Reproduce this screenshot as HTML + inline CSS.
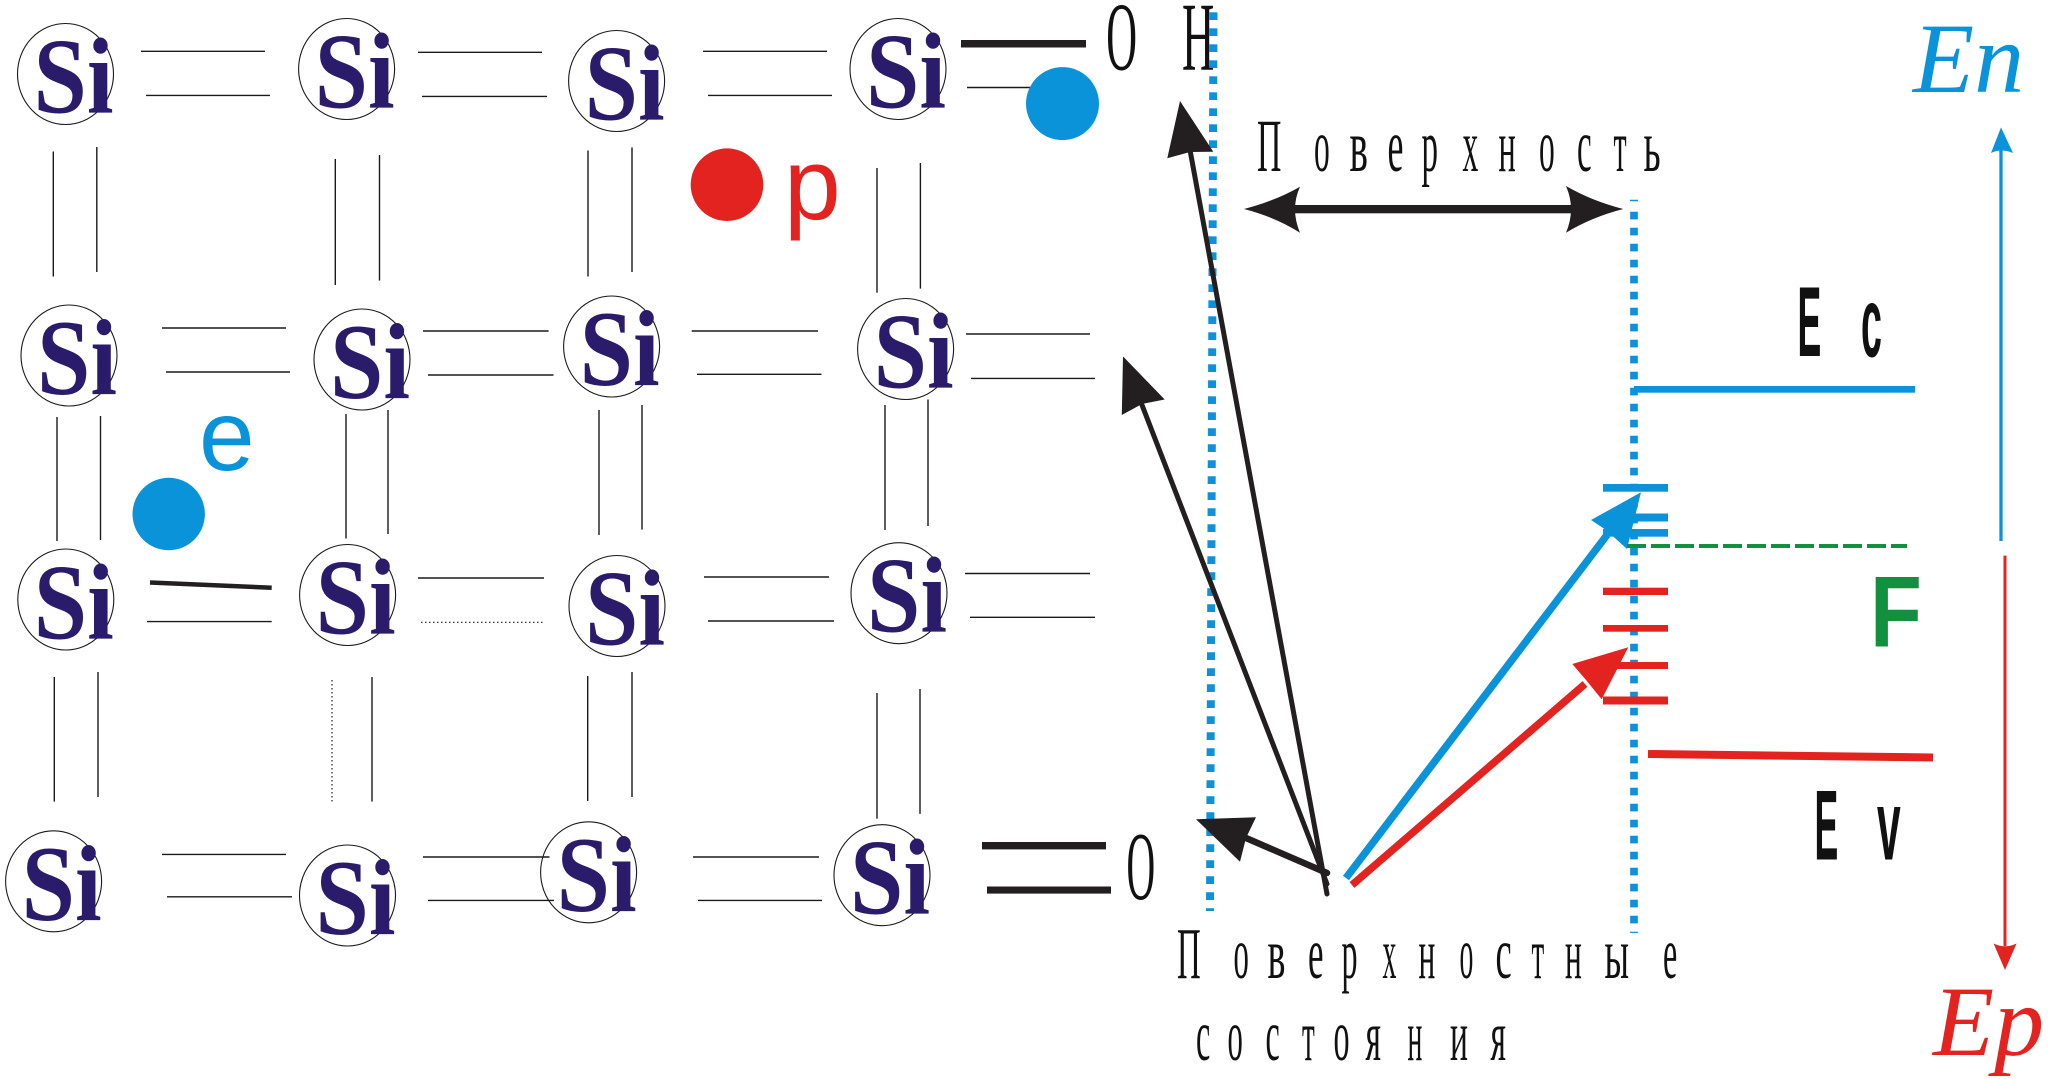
<!DOCTYPE html>
<html><head><meta charset="utf-8"><style>
html,body{margin:0;padding:0;background:#fff;}
svg{display:block;}
</style></head><body>
<svg width="2048" height="1079" viewBox="0 0 2048 1079" xmlns="http://www.w3.org/2000/svg">
<rect width="2048" height="1079" fill="#fff"/>

<!-- bonds -->
<g stroke="#1a1a1a" stroke-width="1.4" fill="none">
<line x1="141" y1="51.3" x2="265" y2="51.3"/><line x1="146" y1="95.4" x2="270" y2="95.4"/>
<line x1="418" y1="52.3" x2="542" y2="52.3"/><line x1="422" y1="96.4" x2="547" y2="96.4"/>
<line x1="703" y1="51.3" x2="827" y2="51.3"/><line x1="708" y1="95.4" x2="832" y2="95.4"/>
<line x1="967" y1="87.5" x2="1031" y2="87.5"/>
<line x1="53.3" y1="151.5" x2="53.3" y2="276.5"/><line x1="96.8" y1="147" x2="96.8" y2="272"/>
<line x1="335.3" y1="159" x2="335.3" y2="285"/><line x1="379.5" y1="155" x2="379.5" y2="280.6"/>
<line x1="588" y1="150.5" x2="588" y2="276.5"/><line x1="632" y1="147.4" x2="632" y2="272"/>
<line x1="877" y1="168" x2="877" y2="292.7"/><line x1="920.4" y1="163" x2="920.4" y2="288.6"/>
<line x1="162" y1="328" x2="286" y2="328"/><line x1="166" y1="372" x2="290" y2="372"/>
<line x1="423" y1="331" x2="548.6" y2="331"/><line x1="428" y1="375" x2="553.5" y2="375"/>
<line x1="691.7" y1="331" x2="818" y2="331"/><line x1="697" y1="374.3" x2="821.5" y2="374.3"/>
<line x1="966" y1="334" x2="1090" y2="334"/><line x1="971" y1="378.4" x2="1095" y2="378.4"/>
<line x1="57" y1="417" x2="57" y2="541"/><line x1="100.5" y1="416" x2="100.5" y2="540"/>
<line x1="346" y1="414" x2="346" y2="538.5"/><line x1="388" y1="410" x2="388" y2="534"/>
<line x1="599" y1="410" x2="599" y2="535"/><line x1="642" y1="405" x2="642" y2="529.6"/>
<line x1="885" y1="405" x2="885" y2="530"/><line x1="928" y1="399.5" x2="928" y2="526"/>
<line x1="147" y1="621.6" x2="271.7" y2="621.6"/>
<line x1="418" y1="578" x2="544" y2="578"/>
<line x1="421" y1="622.3" x2="544" y2="622.3" stroke-dasharray="1.5,2.5" stroke-width="1.2"/>
<line x1="704" y1="577" x2="829" y2="577"/><line x1="708" y1="621" x2="834" y2="621"/>
<line x1="965" y1="573.5" x2="1090" y2="573.5"/><line x1="970" y1="617.3" x2="1095" y2="617.3"/>
<line x1="54.3" y1="677" x2="54.3" y2="801.6"/><line x1="98" y1="672" x2="98" y2="797"/>
<line x1="332" y1="680" x2="332" y2="801.6" stroke-dasharray="1.5,2.5" stroke-width="1.2"/>
<line x1="372" y1="677" x2="372" y2="801.6"/>
<line x1="587.7" y1="676" x2="587.7" y2="801"/><line x1="632" y1="672" x2="632" y2="797"/>
<line x1="877" y1="693" x2="877" y2="818.7"/><line x1="920" y1="689" x2="920" y2="813.8"/>
<line x1="162" y1="854.4" x2="286" y2="854.4"/><line x1="167" y1="896.8" x2="292" y2="896.8"/>
<line x1="423" y1="857" x2="549.5" y2="857"/><line x1="428" y1="900.4" x2="554" y2="900.4"/>
<line x1="693" y1="857" x2="819" y2="857"/><line x1="698" y1="900.4" x2="822" y2="900.4"/>
</g>
<line x1="150" y1="582.5" x2="271.7" y2="587.7" stroke="#231f20" stroke-width="4.5"/>
<rect x="961" y="40" width="125" height="7.5" fill="#231f20"/>
<rect x="982" y="842" width="124" height="7.4" fill="#231f20"/>
<rect x="987" y="886.5" width="124" height="7.1" fill="#231f20"/>

<!-- Si atoms -->
<g fill="none" stroke="#1a1a1a" stroke-width="1.1">
<ellipse cx="65.5" cy="74" rx="48" ry="50.5"/>
<ellipse cx="346.6" cy="69" rx="48" ry="50.5"/>
<ellipse cx="616.6" cy="81" rx="48" ry="50.5"/>
<ellipse cx="898" cy="69" rx="48" ry="50.5"/>
<ellipse cx="69" cy="355.5" rx="48" ry="50.5"/>
<ellipse cx="362" cy="359.5" rx="48" ry="50.5"/>
<ellipse cx="611.6" cy="346.5" rx="48" ry="50.5"/>
<ellipse cx="905.6" cy="349" rx="48" ry="50.5"/>
<ellipse cx="65.8" cy="599.5" rx="48" ry="50.5"/>
<ellipse cx="347.6" cy="595" rx="48" ry="50.5"/>
<ellipse cx="617" cy="606" rx="48" ry="50.5"/>
<ellipse cx="899" cy="593.2" rx="48" ry="50.5"/>
<ellipse cx="53.6" cy="881.3" rx="48" ry="50.5"/>
<ellipse cx="347.5" cy="895.5" rx="48" ry="50.5"/>
<ellipse cx="588.6" cy="872.3" rx="48" ry="50.5"/>
<ellipse cx="882" cy="875.2" rx="48" ry="50.5"/>
</g>
<g font-family="'Liberation Serif',serif" font-weight="bold" font-size="108" fill="#2a1b6b">
<text x="33.5" y="112.7" textLength="80" lengthAdjust="spacingAndGlyphs">Si</text>
<text x="314.6" y="107.5" textLength="80" lengthAdjust="spacingAndGlyphs">Si</text>
<text x="584.6" y="119.5" textLength="80" lengthAdjust="spacingAndGlyphs">Si</text>
<text x="866" y="107.5" textLength="80" lengthAdjust="spacingAndGlyphs">Si</text>
<text x="37" y="394" textLength="80" lengthAdjust="spacingAndGlyphs">Si</text>
<text x="330" y="398" textLength="80" lengthAdjust="spacingAndGlyphs">Si</text>
<text x="579.6" y="385" textLength="80" lengthAdjust="spacingAndGlyphs">Si</text>
<text x="873.6" y="387.5" textLength="80" lengthAdjust="spacingAndGlyphs">Si</text>
<text x="33.8" y="638.5" textLength="80" lengthAdjust="spacingAndGlyphs">Si</text>
<text x="315.6" y="633.5" textLength="80" lengthAdjust="spacingAndGlyphs">Si</text>
<text x="585" y="644.5" textLength="80" lengthAdjust="spacingAndGlyphs">Si</text>
<text x="867" y="631.7" textLength="80" lengthAdjust="spacingAndGlyphs">Si</text>
<text x="21.6" y="919.8" textLength="80" lengthAdjust="spacingAndGlyphs">Si</text>
<text x="315.5" y="934" textLength="80" lengthAdjust="spacingAndGlyphs">Si</text>
<text x="556.6" y="910.8" textLength="80" lengthAdjust="spacingAndGlyphs">Si</text>
<text x="850" y="913.7" textLength="80" lengthAdjust="spacingAndGlyphs">Si</text>
</g>

<circle cx="1062.5" cy="103.6" r="36.5" fill="#0a93d9"/>
<circle cx="727" cy="184.7" r="36.3" fill="#e2231f"/>
<circle cx="168.7" cy="514" r="36.2" fill="#0a93d9"/>
<text x="784" y="219.5" font-family="'Liberation Sans',sans-serif" font-size="102" fill="#e2231f">p</text>
<text x="199" y="470" font-family="'Liberation Sans',sans-serif" font-size="100" fill="#0a93d9">e</text>

<g font-family="'Liberation Serif',serif" font-size="98" fill="#111">
<text transform="translate(1106.3,69.5) scale(0.435,1)">O</text>
<text transform="translate(1182,69.5) scale(0.456,1)">Н</text>
<text transform="translate(1126.5,899) scale(0.405,1)">O</text>
</g>

<line x1="1213.5" y1="12.3" x2="1210" y2="911" stroke="#0a93d9" stroke-width="8" stroke-dasharray="7.7,8.3"/>
<line x1="1634" y1="211.7" x2="1634" y2="933" stroke="#0a93d9" stroke-width="7.7" stroke-dasharray="7.7,8.3"/>
<line x1="1630" y1="200.5" x2="1638" y2="200.5" stroke="#0a93d9" stroke-width="1.5"/>

<g font-family="'Liberation Serif',serif" font-size="75" fill="#111">
<text transform="translate(1257,171) scale(0.45,1)">П</text>
<text transform="translate(1314,171) scale(0.42,1)">о</text>
<text transform="translate(1349.5,171) scale(0.52,1)">в</text>
<text transform="translate(1387.5,171) scale(0.48,1)">е</text>
<text transform="translate(1421.5,171) scale(0.44,1)">р</text>
<text transform="translate(1462.5,171) scale(0.42,1)">х</text>
<text transform="translate(1498.5,171) scale(0.43,1)">н</text>
<text transform="translate(1539,171) scale(0.42,1)">о</text>
<text transform="translate(1577,171) scale(0.44,1)">с</text>
<text transform="translate(1613.5,171) scale(0.4,1)">т</text>
<text transform="translate(1643.5,171) scale(0.5,1)">ь</text>
</g>

<rect x="1290" y="205" width="285" height="8.3" fill="#231f20"/>
<path d="M1244,209 Q1275,201 1300,186.7 Q1290,209 1300,232.7 Q1275,217 1244,209 Z" fill="#231f20"/>
<path d="M1623.3,209 Q1592,201 1566,186 Q1576,209 1566,232.7 Q1592,217 1623.3,209 Z" fill="#231f20"/>

<g stroke="#231f20" stroke-linecap="round" fill="none">
<line x1="1190" y1="150" x2="1327" y2="894" stroke-width="5"/>
<line x1="1142" y1="405" x2="1327" y2="884" stroke-width="5"/>
<line x1="1246" y1="838" x2="1327" y2="873" stroke-width="6.5"/>
</g>
<g fill="#231f20">
<path d="M1180,101 L1167.3,158.3 L1190,152 L1213.3,151.7 Z"/>
<path d="M1123,356.4 L1121.8,415 L1142,404 L1164.7,399.5 Z"/>
<path d="M1196,819.3 L1256,817.3 L1246,838 L1240,861.7 Z"/>
</g>

<g fill="#0a93d9">
<rect x="1603" y="484" width="65" height="7.7"/>
<rect x="1603" y="513.5" width="65" height="8"/>
<rect x="1603" y="529" width="65" height="7.7"/>
</g>
<g fill="#e2231f">
<rect x="1603" y="587.7" width="65" height="7.3"/>
<rect x="1603" y="625" width="65" height="6.7"/>
<rect x="1603" y="662" width="65" height="7"/>
<rect x="1603" y="696.5" width="65" height="8"/>
</g>

<line x1="1346" y1="878" x2="1607" y2="535" stroke="#0a93d9" stroke-width="7.5"/>
<path d="M1641,492.3 L1591,520 L1606,530 L1627,549 Z" fill="#0a93d9"/>
<line x1="1352" y1="885" x2="1585" y2="684" stroke="#e2231f" stroke-width="7.5"/>
<path d="M1628.3,647.3 L1572.3,664 L1586,680 L1601.7,699.3 Z" fill="#e2231f"/>

<rect x="1634" y="386" width="281" height="6.7" fill="#0a93d9"/>
<line x1="1627" y1="546" x2="1907" y2="546" stroke="#119040" stroke-width="4" stroke-dasharray="19,5"/>
<line x1="1648" y1="754" x2="1933" y2="757.5" stroke="#e2231f" stroke-width="8"/>

<g font-family="'Liberation Sans',sans-serif" font-weight="bold" font-size="99" fill="#111">
<text transform="translate(1797.5,356) scale(0.36,1)">E</text>
<text transform="translate(1861,356.7) scale(0.38,1)">c</text>
<text transform="translate(1814.5,859.7) scale(0.36,1)">E</text>
<text transform="translate(1877,859.7) scale(0.43,1)">v</text>
</g>
<text transform="translate(1870,646.6) scale(0.84,1)" font-family="'Liberation Sans',sans-serif" font-weight="bold" font-size="101" fill="#119040">F</text>

<line x1="2001" y1="150" x2="2001" y2="541" stroke="#0a93d9" stroke-width="3.3"/>
<path d="M2001,127.4 L1991,153 Q2001,148 2013,153 Z" fill="#0a93d9"/>
<line x1="2005" y1="555.6" x2="2005" y2="946" stroke="#e2231f" stroke-width="3"/>
<path d="M2005,970 L1993.6,943.5 Q2005,949 2016.6,943.5 Z" fill="#e2231f"/>
<text x="1913" y="92" font-family="'Liberation Serif',serif" font-style="italic" font-size="100" fill="#0a93d9">En</text>
<text x="1933" y="1054.8" font-family="'Liberation Serif',serif" font-style="italic" font-size="100" fill="#e2231f">Ep</text>

<g font-family="'Liberation Serif',serif" font-size="73" fill="#111">
<text transform="translate(1177,978) scale(0.45,1)">П</text>
<text transform="translate(1233.5,978) scale(0.42,1)">о</text>
<text transform="translate(1267.5,978) scale(0.52,1)">в</text>
<text transform="translate(1308,978) scale(0.48,1)">е</text>
<text transform="translate(1341.5,978) scale(0.44,1)">р</text>
<text transform="translate(1382.5,978) scale(0.38,1)">х</text>
<text transform="translate(1418.5,978) scale(0.43,1)">н</text>
<text transform="translate(1459.5,978) scale(0.38,1)">о</text>
<text transform="translate(1495.5,978) scale(0.5,1)">с</text>
<text transform="translate(1531.5,978) scale(0.4,1)">т</text>
<text transform="translate(1565,978) scale(0.43,1)">н</text>
<text transform="translate(1604.5,978) scale(0.5,1)">ы</text>
<text transform="translate(1663,978) scale(0.44,1)">е</text>
<text transform="translate(1196,1060) scale(0.44,1)">с</text>
<text transform="translate(1227.5,1060) scale(0.42,1)">о</text>
<text transform="translate(1265.5,1060) scale(0.44,1)">с</text>
<text transform="translate(1302,1060) scale(0.4,1)">т</text>
<text transform="translate(1333.5,1060) scale(0.44,1)">о</text>
<text transform="translate(1365.5,1060) scale(0.46,1)">я</text>
<text transform="translate(1407.5,1060) scale(0.38,1)">н</text>
<text transform="translate(1450,1060) scale(0.46,1)">и</text>
<text transform="translate(1490.5,1060) scale(0.46,1)">я</text>
</g>
</svg>
</body></html>
